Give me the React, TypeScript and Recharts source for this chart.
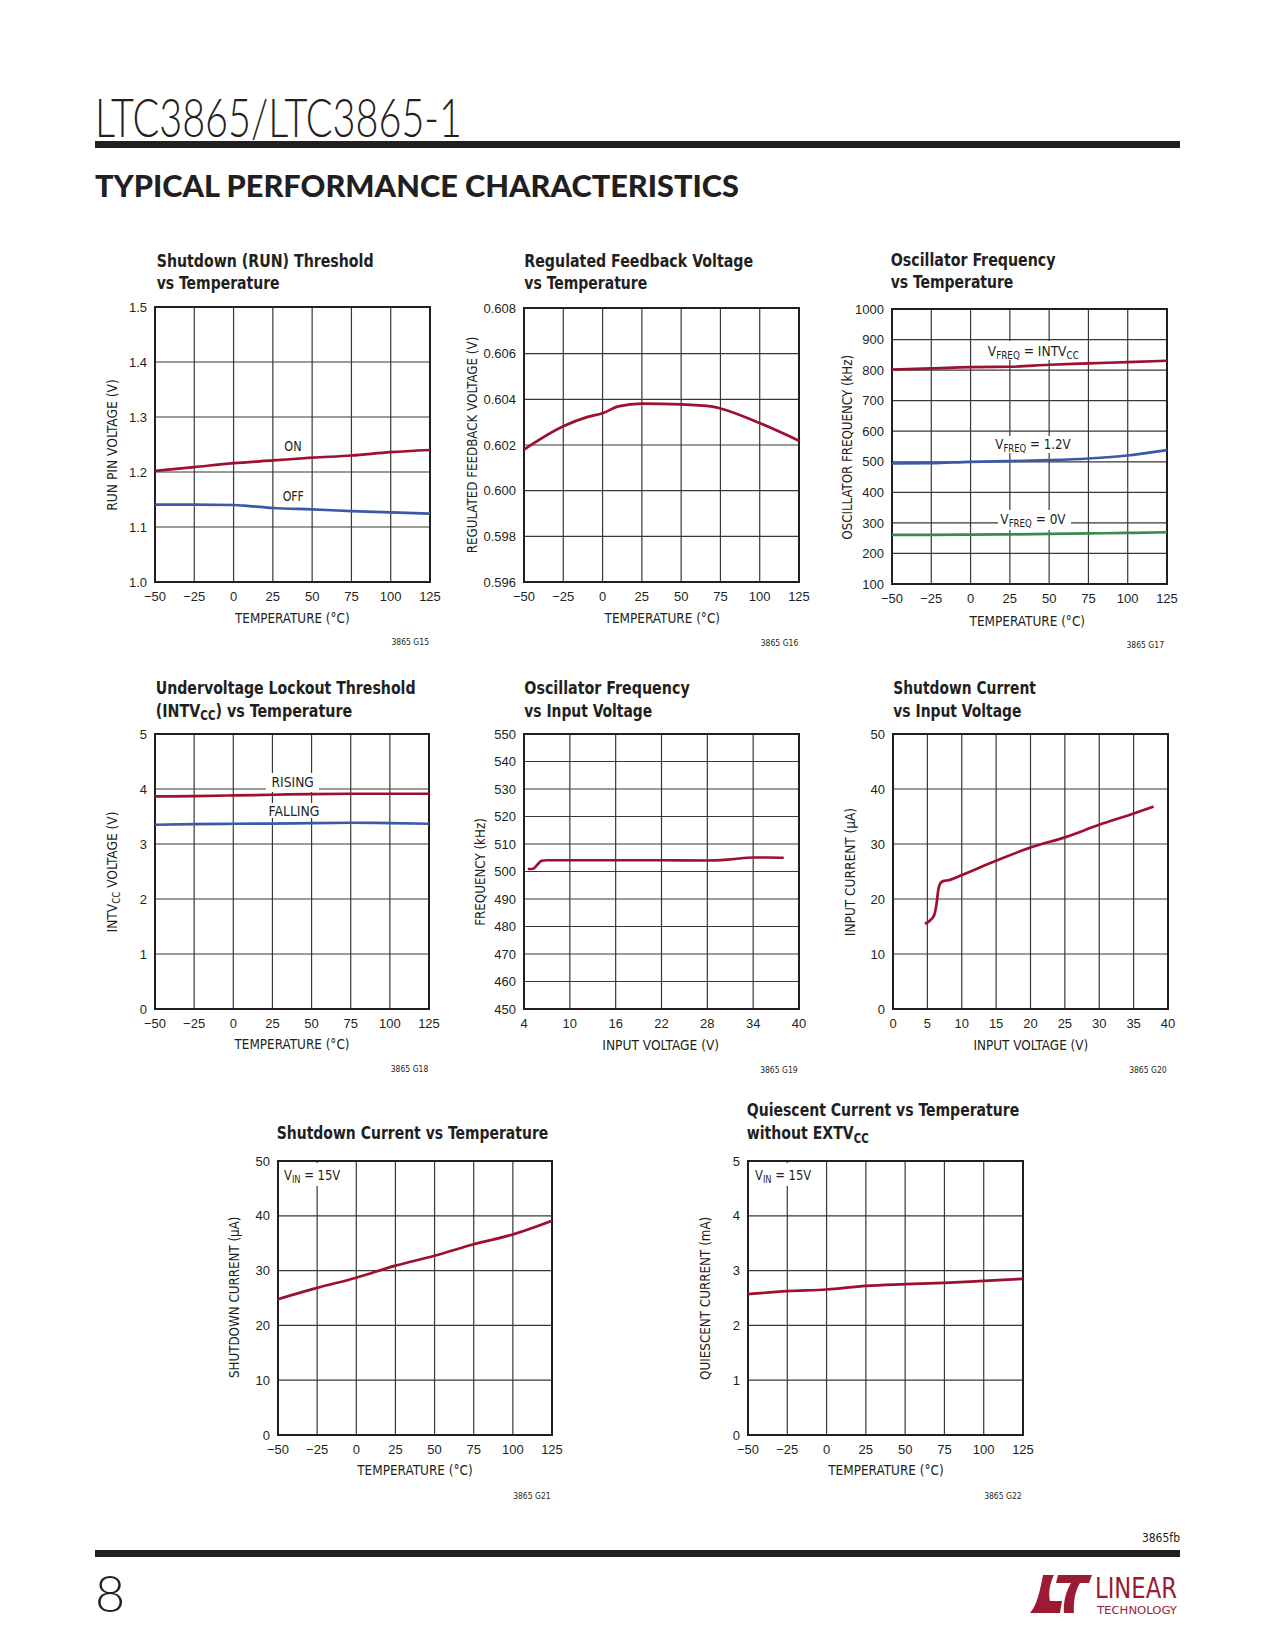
import React, { useLayoutEffect, useRef, useState } from 'react';
import { LineChart, Line, XAxis, YAxis, CartesianGrid, ReferenceArea } from 'recharts';

const FONT = "'Liberation Sans Narrow', 'DejaVu Sans Condensed', 'Roboto Condensed', Roboto, 'Liberation Sans', sans-serif";
const TICK_FONT = "'Liberation Sans', Arial, Helvetica, sans-serif";
const INK = '#231f20';
const GRID = '#383838';
const RED = '#9e1030';
const BLUE = '#3a5aa8';
const GREEN = '#3a8a50';

// ---- data ----
const tempTicks = [-50, -25, 0, 25, 50, 75, 100, 125];

// G15 shutdown (RUN) threshold
const runTemp = [-50, -25, 0, 25, 50, 75, 100, 125];
const runOn = [1.202, 1.209, 1.216, 1.221, 1.226, 1.23, 1.236, 1.24];
const runOffTemp = [-50, -25, 0, 10, 25, 50, 75, 100, 125];
const runOff = [1.1406, 1.1406, 1.14, 1.138, 1.1345, 1.132, 1.129, 1.1267, 1.1242];
const runTicks = [1.0, 1.1, 1.2, 1.3, 1.4, 1.5];

// G16 regulated feedback voltage
const fbTemp = [-50, -25, -10, 0, 10, 25, 50, 70, 75, 100, 125];
const fbVolt = [0.6018, 0.60282, 0.60322, 0.60339, 0.60369, 0.60381, 0.60378, 0.60368, 0.6036, 0.60296, 0.60219];
const fbTicks = [0.596, 0.598, 0.6, 0.602, 0.604, 0.606, 0.608];

// G17 oscillator frequency vs temperature
const oscTemp = [-50, -25, 0, 25, 50, 75, 100, 125];
const oscIntv = [802, 805.6, 810, 811, 817.6, 822, 826.3, 830.7];
const osc12 = [494.3, 495.4, 499.8, 502, 505.3, 510.7, 520.5, 538];
const osc0 = [260.6, 261, 261.7, 262.5, 263.9, 265.5, 267, 269.3];
const oscTicks = [100, 200, 300, 400, 500, 600, 700, 800, 900, 1000];

// G18 UVLO threshold
const uvloTemp = [-50, -25, 0, 25, 50, 75, 100, 125];
const uvloRise = [3.865, 3.872, 3.883, 3.895, 3.908, 3.914, 3.914, 3.914];
const uvloFall = [3.35, 3.362, 3.368, 3.37, 3.38, 3.386, 3.38, 3.368];
const fiveTicks = [0, 1, 2, 3, 4, 5];

// G19 oscillator frequency vs input voltage
const fVin = [4.5, 5.2, 5.8, 6.3, 7, 16, 22, 28, 31, 34, 36, 38];
const fFreq = [500.9, 501.0, 502.6, 503.9, 504.1, 504.1, 504.1, 504.0, 504.4, 505.1, 505.1, 505.0];
const fVinTicks = [4, 10, 16, 22, 28, 34, 40];
const fFreqTicks = [450, 460, 470, 480, 490, 500, 510, 520, 530, 540, 550];

// G20 shutdown current vs input voltage
const sdVin = [4.65, 5.4, 6.0, 6.34, 6.59, 6.9, 7.4, 8.0, 10.1, 15.06, 20.1, 25.1, 30, 34.9, 37.9];
const sdVinCur = [15.5, 16.1, 17.1, 19.2, 21.7, 22.9, 23.3, 23.4, 24.4, 27.0, 29.4, 31.25, 33.5, 35.5, 36.8];
const vinTicks = [0, 5, 10, 15, 20, 25, 30, 35, 40];
const fiftyTicks = [0, 10, 20, 30, 40, 50];

// G21 shutdown current vs temperature
const sdTemp = [-50, -25, 0, 25, 50, 75, 100, 125];
const sdCur = [24.8, 26.85, 28.7, 30.9, 32.7, 34.8, 36.6, 39.1];

// G22 quiescent current vs temperature
const qTemp = [-50, -25, 0, 25, 50, 75, 100, 125];
const qCur = [2.57, 2.625, 2.655, 2.722, 2.752, 2.777, 2.813, 2.849];

const pts = (xs: number[], ys: number[]) => xs.map((x, i) => ({ x, y: ys[i] }));
const minus = (v: number) => (v < 0 ? '\u2212' + Math.abs(v) : String(v));

type Series = { data: { x: number; y: number }[]; color: string };

function Plot(p: {
  left: number; top: number; w: number; h: number;
  xDomain: [number, number]; xTicks: number[];
  yDomain: [number, number]; yTicks: number[];
  yFmt?: (v: number) => string; series: Series[];
}) {
  const ML = 60, MT = 10, MR = 24, MB = 40;
  const tick = { fontSize: 13, fill: INK, fontFamily: TICK_FONT };
  return (
    <div style={{ position: 'absolute', left: p.left - ML, top: p.top - MT, zIndex: 1 }}>
      <LineChart width={p.w + ML + MR} height={p.h + MT + MB} margin={{ top: MT, right: MR, bottom: 0, left: 0 }}>
        <CartesianGrid stroke={GRID} strokeWidth={1.2} />
        <XAxis type="number" dataKey="x" domain={p.xDomain} ticks={p.xTicks} interval={0}
          height={MB} tickLine={false} axisLine={false} tickMargin={4} tick={tick}
          tickFormatter={minus} allowDataOverflow />
        <YAxis type="number" domain={p.yDomain} ticks={p.yTicks} interval={0}
          width={ML} tickLine={false} axisLine={false} tick={tick}
          tickFormatter={p.yFmt || minus} allowDataOverflow />
        <ReferenceArea x1={p.xDomain[0]} x2={p.xDomain[1]} y1={p.yDomain[0]} y2={p.yDomain[1]}
          fill="none" stroke={INK} strokeWidth={2} ifOverflow="visible" />
        {p.series.map((s, i) => (
          <Line key={i} data={s.data} dataKey="y" type="monotone" stroke={s.color}
            strokeWidth={2.7} dot={false} isAnimationActive={false} />
        ))}
      </LineChart>
    </div>
  );
}

// text pieces: [text, isSubscript]
type Part = [string, boolean];
function Parts({ parts, subSize, shift }: { parts: Part[]; subSize: number; shift: number }) {
  let low = false;
  return (
    <>
      {parts.map(([t, sub], i) => {
        const dy = sub === low ? 0 : sub ? shift : -shift;
        low = sub;
        return (
          <tspan key={i} dy={dy} fontSize={sub ? subSize : undefined}>{t}</tspan>
        );
      })}
    </>
  );
}

// text squeezed horizontally to a measured width, like the condensed face of the original
function FitText({ x, y, len, anchor = 'start', rotate = false, size, weight = 400, parts, subSize, shift }: {
  x: number; y: number; len: number; anchor?: 'start' | 'middle' | 'end'; rotate?: boolean;
  size: number; weight?: number; parts: Part[]; subSize: number; shift: number;
}) {
  const ref = useRef<SVGTextElement>(null);
  const [sx, setSx] = useState(1);
  useLayoutEffect(() => {
    if (ref.current) {
      const w = ref.current.getBBox().width;
      if (w > 0) setSx(len / w);
    }
  }, [len]);
  const t = `translate(${x},${y})${rotate ? ' rotate(-90)' : ''} scale(${sx},1)`;
  return (
    <text ref={ref} transform={t} x={0} y={0} textAnchor={anchor} fontSize={size} fontWeight={weight}
      fill={INK} fontFamily={FONT}>
      <Parts parts={parts} subSize={subSize} shift={shift} />
    </text>
  );
}

function Title({ x, y, len, parts }: { x: number; y: number; len: number; parts: Part[] }) {
  return <FitText x={x} y={y} len={len} size={18.5} weight={700} parts={parts} subSize={13.5} shift={3.5} />;
}

function YTitle({ cx, cy, len, parts }: { cx: number; cy: number; len: number; parts: Part[] }) {
  // rotated: baseline sits 5px right of the visual centre line
  return <FitText x={cx + 5} y={cy} len={len} anchor="middle" rotate size={14} parts={parts} subSize={10} shift={3} />;
}

function XTitle({ cx, y, len, text }: { cx: number; y: number; len: number; text: string }) {
  return <FitText x={cx} y={y} len={len} anchor="middle" size={14} parts={[[text, false]]} subSize={10} shift={3} />;
}

function Code({ x, y, text }: { x: number; y: number; text: string }) {
  return <text x={x} y={y} textAnchor="end" fontSize={8.5} fill={INK} fontFamily={FONT}>{text}</text>;
}

function Note({ cx, cy, len, box, parts, anchor = 'middle' }: {
  cx: number; cy: number; len: number; box?: [number, number, number, number]; parts: Part[];
  anchor?: 'start' | 'middle' | 'end';
}) {
  return (
    <g>
      {box && <rect x={box[0]} y={box[1]} width={box[2] - box[0]} height={box[3] - box[1]} fill="#fff" />}
      <FitText x={cx} y={cy + 5} len={len} anchor={anchor} size={14} parts={parts} subSize={10} shift={3} />
    </g>
  );
}

const plain = (t: string): Part[] => [[t, false]];

function Overlay() {
  return (
    <svg width={1275} height={1650} style={{ position: 'absolute', left: 0, top: 0, zIndex: 2, pointerEvents: 'none' }}>
      {/* page header */}
      <text x={95} y={137} fontSize={54} fontWeight={300} fill={INK} fontFamily="Lato, 'DejaVu Sans', sans-serif"
        textLength={367} lengthAdjust="spacingAndGlyphs">LTC3865/LTC3865-1</text>
      <rect x={95} y={141} width={1085} height={7} fill={INK} />
      <text x={95} y={197} fontSize={30} fontWeight={900} fill={INK} fontFamily="Lato, Roboto, sans-serif"
        textLength={644} lengthAdjust="spacingAndGlyphs">TYPICAL PERFORMANCE CHARACTERISTICS</text>

      {/* G15 */}
      <Title x={156.7} y={266.7} len={217} parts={plain('Shutdown (RUN) Threshold')} />
      <Title x={156.7} y={289.3} len={123} parts={plain('vs Temperature')} />
      <YTitle cx={111.7} cy={445} len={131.7} parts={plain('RUN PIN VOLTAGE (V)')} />
      <XTitle cx={292.3} y={622.7} len={115.7} text="TEMPERATURE (°C)" />
      <Code x={429} y={645} text="3865 G15" />
      <Note cx={293} cy={445.7} len={17.3} parts={plain('ON')} />
      <Note cx={293.3} cy={496} len={21.3} parts={plain('OFF')} />

      {/* G16 */}
      <Title x={524.3} y={266.7} len={229} parts={plain('Regulated Feedback Voltage')} />
      <Title x={524.3} y={289.3} len={123} parts={plain('vs Temperature')} />
      <YTitle cx={471.7} cy={445} len={216.7} parts={plain('REGULATED FEEDBACK VOLTAGE (V)')} />
      <XTitle cx={662.3} y={623.3} len={116.7} text="TEMPERATURE (°C)" />
      <Code x={798.3} y={646} text="3865 G16" />

      {/* G17 */}
      <Title x={890.7} y={265.7} len={165.3} parts={plain('Oscillator Frequency')} />
      <Title x={890.7} y={288.3} len={122.7} parts={plain('vs Temperature')} />
      <YTitle cx={846.7} cy={447.3} len={185} parts={plain('OSCILLATOR FREQUENCY (kHz)')} />
      <XTitle cx={1027.3} y={625.7} len={116.7} text="TEMPERATURE (°C)" />
      <Code x={1164} y={648.3} text="3865 G17" />
      <Note cx={1033.3} cy={351} len={91} box={[985, 341, 1082, 360]}
        parts={[['V', false], ['FREQ', true], [' = INTV', false], ['CC', true]]} />
      <Note cx={1033} cy={444.3} len={75.7} box={[994, 436, 1074, 453]}
        parts={[['V', false], ['FREQ', true], [' = 1.2V', false]]} />
      <Note cx={1033} cy={519.3} len={65.7} box={[998, 510, 1071, 530]}
        parts={[['V', false], ['FREQ', true], [' = 0V', false]]} />

      {/* G18 */}
      <Title x={155.7} y={694} len={260} parts={plain('Undervoltage Lockout Threshold')} />
      <Title x={155.7} y={716.7} len={196.7} parts={[['(INTV', false], ['CC', true], [') vs Temperature', false]]} />
      <YTitle cx={111.7} cy={872} len={121} parts={[['INTV', false], ['CC', true], [' VOLTAGE (V)', false]]} />
      <XTitle cx={292} y={1049.3} len={116} text="TEMPERATURE (°C)" />
      <Code x={428.3} y={1071.7} text="3865 G18" />
      <Note cx={292.7} cy={781.7} len={42.3} box={[266, 773, 319, 792]} parts={plain('RISING')} />
      <Note cx={294} cy={810.7} len={51} box={[266, 803, 320, 818]} parts={plain('FALLING')} />

      {/* G19 */}
      <Title x={524.3} y={694} len={165.7} parts={plain('Oscillator Frequency')} />
      <Title x={524.3} y={716.7} len={128} parts={plain('vs Input Voltage')} />
      <YTitle cx={480} cy={872} len={107.7} parts={plain('FREQUENCY (kHz)')} />
      <XTitle cx={660.7} y={1050} len={117} text="INPUT VOLTAGE (V)" />
      <Code x={797.7} y={1072.7} text="3865 G19" />

      {/* G20 */}
      <Title x={893.3} y={694} len={142.7} parts={plain('Shutdown Current')} />
      <Title x={893.3} y={716.7} len={128.3} parts={plain('vs Input Voltage')} />
      <YTitle cx={850} cy={872} len={128.3} parts={plain('INPUT CURRENT (µA)')} />
      <XTitle cx={1030.8} y={1050} len={115} text="INPUT VOLTAGE (V)" />
      <Code x={1166.7} y={1072.7} text="3865 G20" />

      {/* G21 */}
      <Title x={276.7} y={1139.3} len={271.7} parts={plain('Shutdown Current vs Temperature')} />
      <YTitle cx={234} cy={1297.3} len={161.7} parts={plain('SHUTDOWN CURRENT (µA)')} />
      <XTitle cx={415} y={1475} len={116.7} text="TEMPERATURE (°C)" />
      <Code x={550.7} y={1499.3} text="3865 G21" />
      <Note cx={284} cy={1175} len={56.7} anchor="start" box={[282, 1163, 342, 1186]}
        parts={[['V', false], ['IN', true], [' = 15V', false]]} />

      {/* G22 */}
      <Title x={746.7} y={1116} len={272.7} parts={plain('Quiescent Current vs Temperature')} />
      <Title x={746.7} y={1139.3} len={122.3} parts={[['without EXTV', false], ['CC', true]]} />
      <YTitle cx={705} cy={1298.3} len={163.3} parts={plain('QUIESCENT CURRENT (mA)')} />
      <XTitle cx={886} y={1475} len={116.7} text="TEMPERATURE (°C)" />
      <Code x={1021.7} y={1499.3} text="3865 G22" />
      <Note cx={755} cy={1175} len={56.7} anchor="start" box={[753, 1163, 812, 1186]}
        parts={[['V', false], ['IN', true], [' = 15V', false]]} />

      {/* page footer */}
      <text x={1180} y={1542} textAnchor="end" fontSize={12} fill={INK} fontFamily={FONT}>3865fb</text>
      <rect x={95} y={1550} width={1085} height={7} fill={INK} />
      <text x={95} y={1612} fontSize={52} fontWeight={300} fill={INK} fontFamily="Lato, 'DejaVu Sans', sans-serif">8</text>
      <g transform="translate(1030,1575)" fill="#9a1b32">
        <path d="M13,0 L24,0 C20,8 18,18 20,26 L32,26 L30,38 L0,38 C7,30 10,16 13,0 Z" />
        <path d="M28,0 L62,0 L59,8 L50,8 C45,16 43,28 44,38 L34,38 C33,28 36,16 41,8 L26,8 Z" />
      </g>
      <text x={1095} y={1598} fontSize={29} fill="#9a1b32" fontFamily={FONT} textLength={82}
        lengthAdjust="spacingAndGlyphs">LINEAR</text>
      <text x={1097} y={1614} fontSize={10} fill="#9a1b32" fontFamily={FONT} textLength={80}
        lengthAdjust="spacingAndGlyphs">TECHNOLOGY</text>
    </svg>
  );
}

export default function App() {
  const temp: [number, number] = [-50, 125];
  return (
    <div style={{ position: 'absolute', left: 0, top: 0, width: 1275, height: 1650, background: '#fff' }}>
      <Plot left={155} top={307} w={275} h={275} xDomain={temp} xTicks={tempTicks}
        yDomain={[1.0, 1.5]} yTicks={runTicks} yFmt={(v) => v.toFixed(1)}
        series={[{ data: pts(runTemp, runOn), color: RED }, { data: pts(runOffTemp, runOff), color: BLUE }]} />
      <Plot left={524} top={308} w={275} h={274} xDomain={temp} xTicks={tempTicks}
        yDomain={[0.596, 0.608]} yTicks={fbTicks} yFmt={(v) => v.toFixed(3)}
        series={[{ data: pts(fbTemp, fbVolt), color: RED }]} />
      <Plot left={892} top={309} w={275} h={275} xDomain={temp} xTicks={tempTicks}
        yDomain={[100, 1000]} yTicks={oscTicks}
        series={[
          { data: pts(oscTemp, oscIntv), color: RED },
          { data: pts(oscTemp, osc12), color: BLUE },
          { data: pts(oscTemp, osc0), color: GREEN },
        ]} />
      <Plot left={155} top={734} w={274} h={275} xDomain={temp} xTicks={tempTicks}
        yDomain={[0, 5]} yTicks={fiveTicks}
        series={[{ data: pts(uvloTemp, uvloRise), color: RED }, { data: pts(uvloTemp, uvloFall), color: BLUE }]} />
      <Plot left={524} top={734} w={275} h={275} xDomain={[4, 40]} xTicks={fVinTicks}
        yDomain={[450, 550]} yTicks={fFreqTicks}
        series={[{ data: pts(fVin, fFreq), color: RED }]} />
      <Plot left={893} top={734} w={275} h={275} xDomain={[0, 40]} xTicks={vinTicks}
        yDomain={[0, 50]} yTicks={fiftyTicks}
        series={[{ data: pts(sdVin, sdVinCur), color: RED }]} />
      <Plot left={278} top={1161} w={274} h={274} xDomain={temp} xTicks={tempTicks}
        yDomain={[0, 50]} yTicks={fiftyTicks}
        series={[{ data: pts(sdTemp, sdCur), color: RED }]} />
      <Plot left={748} top={1161} w={275} h={274} xDomain={temp} xTicks={tempTicks}
        yDomain={[0, 5]} yTicks={fiveTicks}
        series={[{ data: pts(qTemp, qCur), color: RED }]} />
      <Overlay />
    </div>
  );
}
